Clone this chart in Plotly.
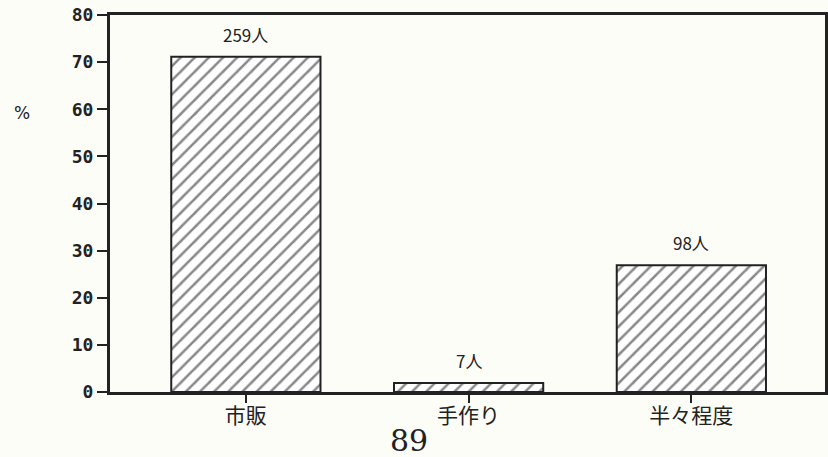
import plotly.graph_objects as go

categories = ["市販", "手作り", "半々程度"]
counts = [259, 7, 98]
total = sum(counts)
percents = [c / total * 100 for c in counts]
count_labels = [f"{c}人" for c in counts]
y_ticks = [0, 10, 20, 30, 40, 50, 60, 70, 80]

bg = "#fdfdf7"
ink = "#222222"

W, H = 828, 457
L, T, B, R = 110, 15, 65, 0
PW, PH = W - L - R, H - T - B

def px_to_paper(px, py):
    return (px - L) / PW, (H - B - py) / PH

fig = go.Figure()
fig.add_trace(go.Bar(
    x=categories, y=percents,
    width=0.67,
    marker=dict(color="white",
                line=dict(color=ink, width=2),
                pattern=dict(shape="/", fgcolor="#111111", bgcolor="white", size=10, solidity=0.25)),
    hoverinfo="skip",
))

for cat, val, lab in zip(categories, percents, count_labels):
    fig.add_annotation(x=cat, y=val, text=lab, showarrow=False,
                       xanchor="center", yanchor="bottom", yshift=8,
                       font=dict(family="Noto Sans CJK JP", size=17, color=ink))

fig.update_layout(
    width=W, height=H,
    margin=dict(l=L, r=R, t=T, b=B),
    paper_bgcolor=bg, plot_bgcolor=bg,
    showlegend=False,
    xaxis=dict(type="category", range=[-0.61, 2.6],
               showline=True, linecolor=ink, linewidth=3, mirror=True,
               ticks="outside", ticklen=8, tickwidth=1.5, tickcolor=ink,
               ticklabelstandoff=-5,
               tickfont=dict(family="Noto Sans CJK JP", size=21, color=ink),
               showgrid=False),
    yaxis=dict(range=[0, 80], tickvals=y_ticks,
               showline=True, linecolor=ink, linewidth=3, mirror=True,
               ticks="outside", ticklen=10, tickwidth=2, tickcolor=ink,
               tickfont=dict(family="DejaVu Sans Mono", size=18, color=ink, weight="bold"),
               showgrid=False, zeroline=False),
)

for txt, px, py, fam, size in [("%", 22, 113, "DejaVu Sans", 17),
                               ("89", 410, 440, "DejaVu Serif", 30)]:
    x, y = px_to_paper(px, py)
    fig.add_annotation(text=txt, x=x, y=y, xref="paper", yref="paper",
                       xanchor="center", yanchor="middle", showarrow=False,
                       font=dict(family=fam, size=size, color=ink))

fig.write_html("out.html",
               config={"displayModeBar": False},
               post_script="document.body.style.margin='0';"
                           "document.body.style.overflow='hidden';"
                           "document.body.style.background='#fdfdf7';")
